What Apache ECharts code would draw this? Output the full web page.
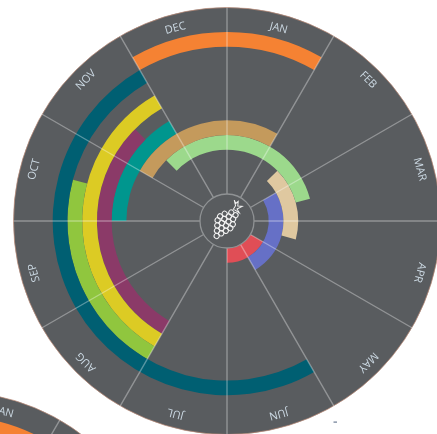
<!DOCTYPE html>
<html><head><meta charset="utf-8">
<style>html,body{margin:0;background:#fff;overflow:hidden}#c{width:437px;height:434px;filter:blur(.5px)}</style>
<script src="https://cdn.jsdelivr.net/npm/echarts@6/dist/echarts.min.js"></script>
</head><body><div id="c"></div>
<script>
const months = ['JAN','FEB','MAR','APR','MAY','JUN','JUL','AUG','SEP','OCT','NOV','DEC'];
const trackStart = [120, 60, 45, 315, 300, 270, 210, 210, 210, 150, 330];
const trackEnd   = [180, 150, 105, 75, 30, 330, 315, 330, 285, 330, 30];
const trackColor = ['#e04e56','#6670c6','#dfc8a0','#9cd98c','#c49a5c','#00968e','#8b3a68','#dccb24','#90c63e','#005f72','#f58233'];
const secondStart = [330], secondEnd = [30], secondColor = ['#f58233'];
const secondSlot = [10];
const secondMonths = ['JAN'];

const R0 = 27, BAND = 14.73, R = 213.5, LABEL_R = 199.5;
const centers = [[227, 221], [-47, 605]];
const DISK = '#595c5f';
const slots = Array.from({length: 13}, (_, i) => 't' + i);

function stackData(starts, ends, index) {
  const g1 = slots.map(() => 0), a = slots.map(() => 0), g2 = slots.map(() => 0), b = slots.map(() => 0);
  starts.forEach((s, i) => {
    const k = index ? index[i] : i, e = ends[i];
    if (e < s) { a[k] = e; g2[k] = s - e; b[k] = 360 - s; }
    else { g1[k] = s; a[k] = e - s; }
  });
  return {g1, a, g2, b};
}
function barSeries(polarIndex, name, starts, ends, colors, index) {
  const d = stackData(starts, ends, index);
  const colOf = slots.map(() => 'transparent');
  starts.forEach((s, i) => { colOf[index ? index[i] : i] = colors[i]; });
  const common = {type:'bar', coordinateSystem:'polar', polarIndex, stack:name, barCategoryGap:'0%', barWidth:'100%', silent:true, z:2, animation:false};
  const vis = arr => arr.map((v, i) => ({value:v, itemStyle:{color:colOf[i]}}));
  return [
    {...common, data:d.g1, itemStyle:{color:'transparent'}},
    {...common, data:vis(d.a)},
    {...common, data:d.g2, itemStyle:{color:'transparent'}},
    {...common, data:vis(d.b)}
  ];
}
function labelSeries(polarIndex, names) {
  return {
    type:'custom', coordinateSystem:'polar', polarIndex, z:6, silent:true, animation:false,
    data: names.map(m => [LABEL_R, months.indexOf(m) * 30 + 15]),
    renderItem(p, api) {
      const ang = api.value(1), pt = api.coord([api.value(0), ang]);
      return {type:'text', x:pt[0], y:pt[1], rotation:-ang * Math.PI / 180,
        style:{text:months[(ang - 15) / 30], fill:'#cbd8e2', font:'11px "Open Sans"', align:'center', verticalAlign:'middle'}};
    }
  };
}
const polar = [], angleAxis = [], radiusAxis = [];
centers.forEach(c => {
  polar.push({center:c, radius:[R0, R0 + BAND * slots.length]});
  angleAxis.push({type:'value', polarIndex:polar.length - 1, min:0, max:360, startAngle:90, show:false});
  radiusAxis.push({type:'category', polarIndex:polar.length - 1, data:slots, show:false});
  polar.push({center:c, radius:[R0, R]});
  angleAxis.push({type:'value', polarIndex:polar.length - 1, min:0, max:360, interval:30, startAngle:90, z:4,
    axisLine:{show:false}, axisTick:{show:false}, axisLabel:{show:false}, minorTick:{show:false},
    splitLine:{show:true, lineStyle:{color:'rgba(255,255,255,0.34)', width:1.4}}});
  radiusAxis.push({type:'value', polarIndex:polar.length - 1, min:R0, max:R, show:false});
});

const berryRows = [[0,1],[-1,0,1],[-1.5,-.5,.5,1.5],[-1.5,-.5,.5,1.5],[-1,0,1],[-.5,.5],[0]];
const berries = [];
berryRows.forEach((row, r) => row.forEach(x => berries.push({
  type:'circle', shape:{cx:x * 5, cy:r * 4.6 - 10, r:2.6},
  style:{fill:'transparent', stroke:'#f2f2f2', lineWidth:1}
})));
const stem = [
  {type:'polyline', shape:{points:[[0,-13],[0,-18],[-4,-22],[-1,-20],[0,-23],[2,-19],[6,-21],[3,-16],[7,-14],[1,-14]]},
   style:{fill:'transparent', stroke:'#f2f2f2', lineWidth:1}}
];
const g = [];
centers.forEach(c => g.push({type:'circle', z:-10, shape:{cx:c[0], cy:c[1], r:R},
  style:{fill:DISK, stroke:'rgba(190,140,120,.7)', lineWidth:1}}));
g.push({type:'circle', z:5, shape:{cx:227, cy:221, r:R0}, style:{fill:'transparent', stroke:'#8f9294', lineWidth:1.3}});
g.push({type:'group', z:6, x:226, y:221, rotation:-32 * Math.PI / 180, children:[...berries, ...stem]});
g.push({type:'rect', shape:{x:333.5, y:421.5, width:3.5, height:1.2}, style:{fill:'#6a7a92'}});

const chart = echarts.init(document.getElementById('c'), null, {renderer:'canvas'});
chart.setOption({
  animation:false, polar, angleAxis, radiusAxis, graphic:g,
  series:[
    ...barSeries(0, 'a', trackStart, trackEnd, trackColor),
    labelSeries(1, months),
    ...barSeries(2, 'b', secondStart, secondEnd, secondColor, secondSlot),
    labelSeries(3, secondMonths)
  ]
});
</script></body></html>
